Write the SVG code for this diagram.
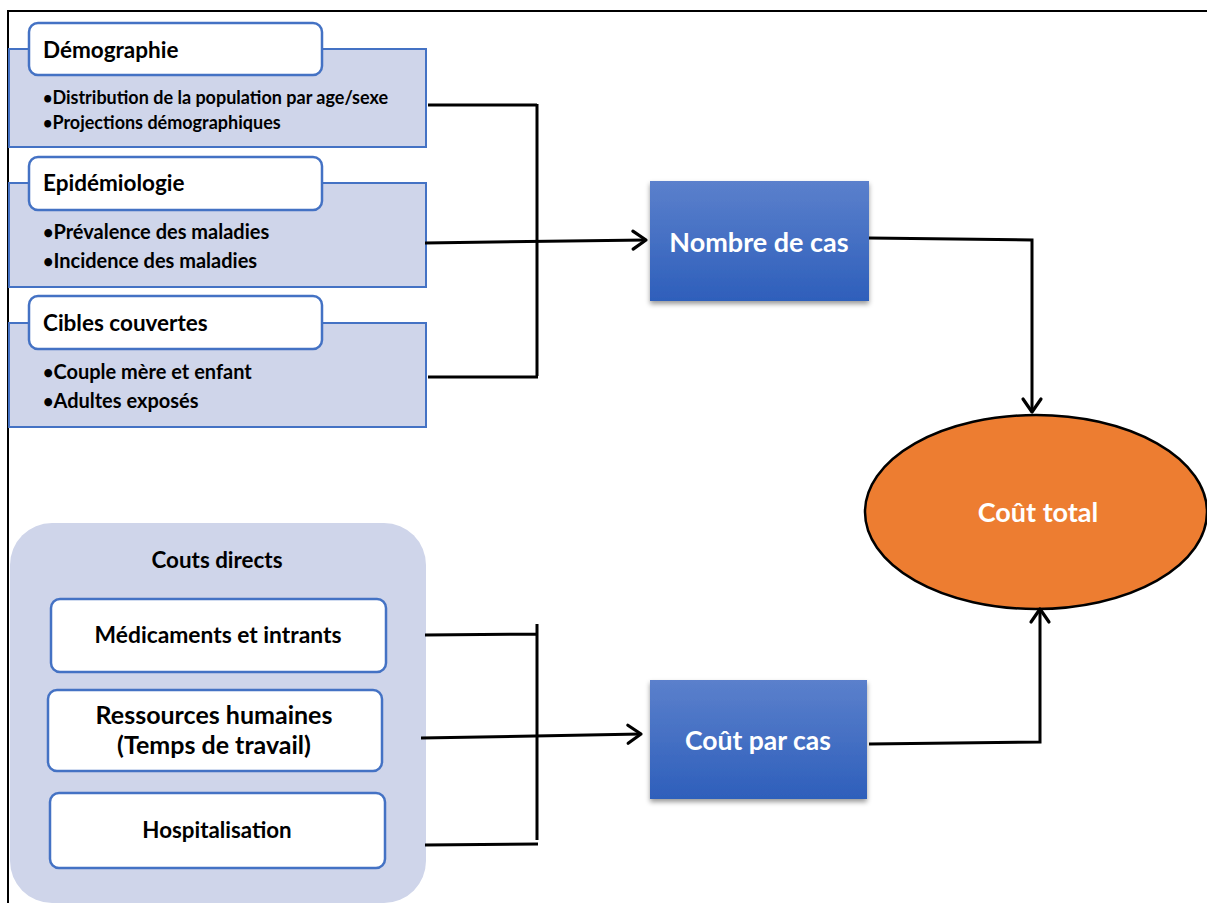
<svg xmlns="http://www.w3.org/2000/svg" width="1207" height="903" viewBox="0 0 1207 903">
<style>
  .bg { fill: #cfd5ea; stroke: #4472c4; stroke-width: 2; }
  .title { fill: #ffffff; stroke: #4472c4; stroke-width: 2.5; }
  .t { font-family: Lato, "Open Sans", sans-serif; font-weight: bold; fill: #000000; }
  .wt { font-family: Lato, "Open Sans", sans-serif; font-weight: bold; fill: #ffffff; }
  .b { font-size: 0.9em; }
  .ln { fill: none; stroke: #000000; stroke-width: 3; }
  .frame { fill: none; stroke: #000000; stroke-width: 2; }
</style>
<defs>
  <linearGradient id="blue" x1="0" y1="0" x2="0" y2="1">
    <stop offset="0" stop-color="#5b80cc"/>
    <stop offset="1" stop-color="#2e5fbb"/>
  </linearGradient>
  <filter id="sh" x="-10%" y="-10%" width="125%" height="130%">
    <feDropShadow dx="0" dy="3" stdDeviation="2.5" flood-color="#000000" flood-opacity="0.4"/>
  </filter>
  <marker id="arr" markerUnits="userSpaceOnUse" markerWidth="20" markerHeight="24" viewBox="-16 -12 20 24" refX="0" refY="0" orient="auto">
    <path d="M-13,-9 L0,0 L-13,9" fill="none" stroke="#000000" stroke-width="3.2" stroke-linecap="round" stroke-linejoin="round"/>
  </marker>
</defs>

<rect width="1207" height="903" fill="#ffffff"/>
<path class="frame" d="M7,11 L1207,11 M8,11 L8,903"/>

<g id="demographie">
  <rect class="bg" x="9" y="49" width="417" height="98"/>
  <rect class="title" x="29" y="23" width="293" height="52" rx="9"/>
  <text class="t" x="43" y="58" font-size="22.5">Démographie</text>
  <text class="t" x="43" y="104" font-size="18"><tspan class="b">•</tspan>Distribution de la population par age/sexe</text>
  <text class="t" x="43" y="129" font-size="18"><tspan class="b">•</tspan>Projections démographiques</text>
</g>

<g id="epidemiologie">
  <rect class="bg" x="9" y="183" width="417" height="104"/>
  <rect class="title" x="29" y="157" width="293" height="53" rx="9"/>
  <text class="t" x="43" y="191" font-size="22.5">Epidémiologie</text>
  <text class="t" x="43" y="239" font-size="20"><tspan class="b">•</tspan>Prévalence des maladies</text>
  <text class="t" x="43" y="268" font-size="20"><tspan class="b">•</tspan>Incidence des maladies</text>
</g>

<g id="cibles">
  <rect class="bg" x="9" y="323" width="417" height="104"/>
  <rect class="title" x="29" y="296" width="293" height="53" rx="9"/>
  <text class="t" x="43" y="331" font-size="22.5">Cibles couvertes</text>
  <text class="t" x="43" y="379" font-size="20"><tspan class="b">•</tspan>Couple mère et enfant</text>
  <text class="t" x="43" y="408" font-size="20"><tspan class="b">•</tspan>Adultes exposés</text>
</g>

<g id="couts-directs">
  <rect x="10" y="523" width="416" height="380" rx="42" fill="#cfd5ea"/>
  <text class="t" x="217" y="568" font-size="22.4" text-anchor="middle">Couts directs</text>
</g>

<g id="medicaments">
  <rect class="title" x="51" y="599" width="335" height="73" rx="9"/>
  <text class="t" x="218" y="643" font-size="22.8" text-anchor="middle">Médicaments et intrants</text>
</g>

<g id="ressources">
  <rect class="title" x="48" y="690" width="334" height="81" rx="9"/>
  <text class="t" x="214" y="724" font-size="25" text-anchor="middle">Ressources humaines</text>
  <text class="t" x="214" y="754" font-size="25" text-anchor="middle">(Temps de travail)</text>
</g>

<g id="hospitalisation">
  <rect class="title" x="50" y="793" width="335" height="75" rx="9"/>
  <text class="t" x="217" y="838" font-size="22.3" text-anchor="middle">Hospitalisation</text>
</g>

<g id="nombre-de-cas">
  <rect x="650" y="181" width="219" height="120" fill="url(#blue)" filter="url(#sh)"/>
  <text class="wt" x="759" y="252" font-size="27" text-anchor="middle">Nombre de cas</text>
</g>

<g id="cout-par-cas">
  <rect x="650" y="680" width="217" height="119" fill="url(#blue)" filter="url(#sh)"/>
  <text class="wt" x="758" y="750" font-size="26.5" text-anchor="middle">Coût par cas</text>
</g>

<g id="cout-total">
  <ellipse cx="1036" cy="512" rx="171" ry="97" fill="#ed7d31" stroke="#000000" stroke-width="2.5"/>
  <text class="wt" x="1038" y="522" font-size="27" text-anchor="middle">Coût total</text>
</g>

<g id="connectors">
  <path class="ln" d="M428,105 L537,105 M537,104 L537,376 M428,377 L538,377"/>
  <path class="ln" d="M425,243 L646,240" marker-end="url(#arr)"/>
  <path class="ln" d="M869,238 L1032,240 L1032,412" marker-end="url(#arr)"/>
  <path class="ln" d="M425,635 L538,634 M537,624 L537,840 M425,845 L538,844"/>
  <path class="ln" d="M421,738 L641,734" marker-end="url(#arr)"/>
  <path class="ln" d="M869,744 L1040,742 L1040,609" marker-end="url(#arr)"/>
</g>
</svg>
